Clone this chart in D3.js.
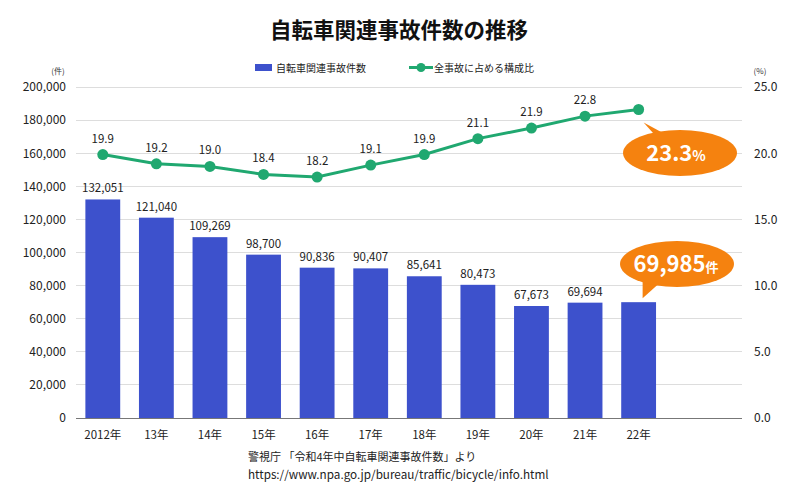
<!DOCTYPE html>
<html><head><meta charset="utf-8">
<script src="https://cdn.jsdelivr.net/npm/d3@7"></script>
<style>
body{margin:0;background:#fff;}
text{font-family:"Noto Sans CJK JP","Noto Sans",sans-serif;}
</style></head>
<body><svg id="c" width="800" height="490"></svg>
<script>
const categories = ["2012年","13年","14年","15年","16年","17年","18年","19年","20年","21年","22年"];
const counts = [132051,121040,109269,98700,90836,90407,85641,80473,67673,69694,69985];
const ratios = [19.9,19.2,19.0,18.4,18.2,19.1,19.9,21.1,21.9,22.8,23.3];
const leftTicks = [0,20000,40000,60000,80000,100000,120000,140000,160000,180000,200000];
const rightTicks = [0,5,10,15,20,25];
const title = "自転車関連事故件数の推移";
const legendLabels = ["自転車関連事故件数","全事故に占める構成比"];
const source = ["警視庁 「令和4年中自転車関連事故件数」より","https://www.npa.go.jp/bureau/traffic/bicycle/info.html"];

const svg = d3.select("#c");
const blue = "#3d51cc", green = "#20a870", orange = "#f5820f";
const x0 = 76, x1 = 719, yTop = 87, yBot = 418, gridEnd = 742;

const x = d3.scaleBand().domain(categories.concat(["_"])).range([x0, x1]).paddingInner(0.35).paddingOuter(0.175);
const yL = d3.scaleLinear().domain([0,200000]).range([yBot, yTop]);
const yR = d3.scaleLinear().domain([0,25]).range([yBot, yTop]);

// title
svg.append("text").attr("x",399).attr("y",38).attr("text-anchor","middle")
  .attr("font-size",21.5).attr("font-weight","bold").attr("fill","#111").text(title);

// gridlines
svg.append("g").selectAll("line").data(leftTicks).join("line")
  .attr("x1",x0).attr("x2",gridEnd).attr("y1",d=>yL(d)).attr("y2",d=>yL(d))
  .attr("stroke",d=>d===0?"#777":"#ddd").attr("stroke-width",1).attr("shape-rendering","crispEdges");

// left axis
const gL = svg.append("g").attr("transform",`translate(${x0},0)`)
  .call(d3.axisLeft(yL).tickValues(leftTicks).tickFormat(d3.format(",")).tickSize(0).tickPadding(10));
gL.select(".domain").remove();
gL.selectAll("text").attr("font-size",12).attr("fill","#222").style("font-family","'Noto Sans CJK JP',sans-serif");
svg.append("text").attr("x",58).attr("y",74).attr("text-anchor","middle").attr("font-size",8).attr("fill","#333").text("(件)");

// right axis
const gR = svg.append("g").attr("transform",`translate(${gridEnd},0)`)
  .call(d3.axisRight(yR).tickValues(rightTicks).tickFormat(d3.format(".1f")).tickSize(0).tickPadding(12));
gR.select(".domain").remove();
gR.selectAll("text").attr("font-size",12).attr("fill","#222").style("font-family","'Noto Sans CJK JP',sans-serif");
svg.append("text").attr("x",760).attr("y",74).attr("text-anchor","middle").attr("font-size",8).attr("fill","#333").text("(%)");

// x axis labels
svg.append("g").selectAll("text").data(categories).join("text")
  .attr("x",d=>x(d)+x.bandwidth()/2).attr("y",439).attr("text-anchor","middle")
  .attr("font-size",11.5).attr("fill","#222").text(d=>d);

// bars
svg.append("g").selectAll("rect").data(counts).join("rect")
  .attr("x",(d,i)=>x(categories[i])).attr("width",x.bandwidth())
  .attr("y",d=>yL(d)).attr("height",d=>yBot-yL(d)).attr("fill",blue);
svg.append("g").selectAll("text").data(counts.slice(0,-1)).join("text")
  .attr("x",(d,i)=>x(categories[i])+x.bandwidth()/2).attr("y",d=>yL(d)-7)
  .attr("text-anchor","middle").attr("font-size",11.5).attr("fill","#222").text(d=>d3.format(",")(d));

// line
const cx = (i)=>x(categories[i])+x.bandwidth()/2;
svg.append("path").datum(ratios).attr("fill","none").attr("stroke",green).attr("stroke-width",3)
  .attr("d",d3.line().x((d,i)=>cx(i)).y(d=>yR(d)));
svg.append("g").selectAll("circle").data(ratios).join("circle")
  .attr("cx",(d,i)=>cx(i)).attr("cy",d=>yR(d)).attr("r",5.5).attr("fill",green);
svg.append("g").selectAll("text").data(ratios.slice(0,-1)).join("text")
  .attr("x",(d,i)=>cx(i)).attr("y",d=>yR(d)-12)
  .attr("text-anchor","middle").attr("font-size",11.5).attr("fill","#222").text(d=>d.toFixed(1));

// callouts
const li = ratios.length-1;
function bubble(cxB, cyB, rx, ry, tail){
  const g = svg.append("g");
  g.append("path").attr("d",tail).attr("fill",orange);
  g.append("ellipse").attr("cx",cxB).attr("cy",cyB).attr("rx",rx).attr("ry",ry).attr("fill",orange);
  return g;
}
const pX = cx(li), pY = yR(ratios[li]);
const b1 = bubble(680,153,57,23,`M${pX+5},${pY+13} L${pX+22},${pY+32} L${pX+40},${pY+32} Z`);
const t1 = b1.append("text").attr("x",676).attr("y",161).attr("text-anchor","middle").attr("fill","#fff").attr("font-weight","bold");
t1.append("tspan").attr("font-size",22).text(d3.format(".1f")(ratios[li]));
t1.append("tspan").attr("font-size",14).text("%");
const bX = cx(li), bY = yL(counts[li]);
const b2 = bubble(677,264,57,23,`M${bX+4},${bY-4} L${bX+4},${bY-22} L${bX+24},${bY-22} Z`);
const t2 = b2.append("text").attr("x",676).attr("y",272).attr("text-anchor","middle").attr("fill","#fff").attr("font-weight","bold");
t2.append("tspan").attr("font-size",22).text(d3.format(",")(counts[li]));
t2.append("tspan").attr("font-size",13).text("件");

// legend
const lg = svg.append("g");
lg.append("rect").attr("x",255).attr("y",64).attr("width",17).attr("height",7).attr("fill",blue);
lg.append("text").attr("x",276).attr("y",71.5).attr("font-size",10).attr("fill","#222").text(legendLabels[0]);
lg.append("line").attr("x1",409).attr("x2",433).attr("y1",67.5).attr("y2",67.5).attr("stroke",green).attr("stroke-width",3);
lg.append("circle").attr("cx",421).attr("cy",67.5).attr("r",4.5).attr("fill",green);
lg.append("text").attr("x",434).attr("y",71.5).attr("font-size",10).attr("fill","#222").text(legendLabels[1]);

// source
svg.append("text").attr("x",248).attr("y",461).attr("font-size",11).attr("fill","#222").text(source[0]);
svg.append("text").attr("x",248).attr("y",479).attr("font-size",11.7).attr("fill","#222").text(source[1]);
</script></body></html>
